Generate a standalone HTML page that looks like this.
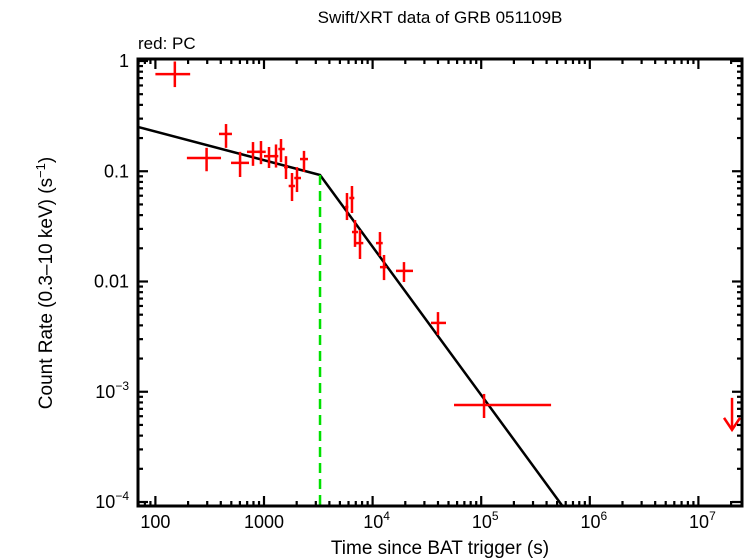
<!DOCTYPE html>
<html><head><meta charset="utf-8"><style>
html,body{margin:0;padding:0;background:#fff;}
svg{display:block;font-family:"Liberation Sans",sans-serif;}
</style></head><body>
<svg id="chart" width="748" height="558" viewBox="0 0 748 558">
<text x="440" y="23" font-size="17" text-anchor="middle">Swift/XRT data of GRB 051109B</text>
<text x="138" y="49" font-size="17">red: PC</text>
<text x="440" y="554" font-size="19" text-anchor="middle">Time since BAT trigger (s)</text>
<text transform="translate(52,283) rotate(-90)" font-size="19" text-anchor="middle">Count Rate (0.3–10 keV) (s<tspan dy="-7" font-size="13">−1</tspan><tspan dy="7">)</tspan></text>
<g id="plot"></g>
</svg>
<script>
const times=[296,447,602,792,938,1112,1290,1434,1594,1811,2013,2335,5808,6457,6887,7655,11690,12740,19450,40000,106200];
const tLo=[195,385,497,697,875,1000,1219,1355,1528,1687,1900,2146,5572,6106,6457,7031,10740,11690,16420,34500,56200];
const tHi=[402,507,728,919,1037,1263,1355,1552,1663,1928,2192,2541,5975,6786,7341,8210,12390,13490,23550,47400,440000];
const rates=[0.132,0.218,0.119,0.150,0.150,0.137,0.137,0.159,0.109,0.0735,0.0868,0.129,0.0474,0.0572,0.0281,0.0223,0.0223,0.0135,0.0125,0.00421,0.000758];
const rLo=[0.100,0.163,0.0887,0.112,0.116,0.107,0.108,0.121,0.085,0.0537,0.0648,0.0985,0.0361,0.0418,0.0206,0.0160,0.0170,0.0103,0.0099,0.00327,0.000578];
const rHi=[0.163,0.268,0.150,0.184,0.188,0.166,0.175,0.196,0.137,0.0964,0.109,0.153,0.0635,0.0735,0.0361,0.0293,0.0281,0.0174,0.0150,0.00528,0.000955];
const firstPoint={t:151,tLo:100,tHi:209,r:0.76,rLo:0.58,rHi:0.99};
const upperLimit={t:2.04e7,r:0.00088};
const breakTime=3280, breakRate=0.0925, alpha1=0.26, alpha2=1.36;
const modelT=[69,3280,560000];
const xTicks=[100,1000,1e4,1e5,1e6,1e7];
const xTickLabels=["100","1000","10|4","10|5","10|6","10|7"];
const yTicks=[1,0.1,0.01,0.001,0.0001];
const yTickLabels=["1","0.1","0.01","10|−3","10|−4"];

const L=138,R=742,T=59,B=506;
const sx=t=>264+108.6*(Math.log10(t)-3);
const sy=v=>61-110.25*Math.log10(v);
const NS="http://www.w3.org/2000/svg";
const g=document.getElementById('plot');
function mk(tag,attrs,parent){const e=document.createElementNS(NS,tag);for(const k in attrs)e.setAttribute(k,attrs[k]);(parent||g).appendChild(e);return e;}

const model=t=>t<breakTime?breakRate*Math.pow(t/breakTime,-alpha1):breakRate*Math.pow(t/breakTime,-alpha2);
const mp=mk('polyline',{points:modelT.map(t=>sx(t)+','+Math.min(sy(model(t)),B)).join(' '),fill:'none',stroke:'#000','stroke-width':2.5});


const bl=mk('line',{x1:sx(breakTime),x2:sx(breakTime),y1:sy(breakRate),y2:B,stroke:'#00e000','stroke-width':2.5,'stroke-dasharray':'10,6'});



function pt(t,lo,hi,r,rl,rh,i){
  const grp=mk('g',{stroke:'#f00','stroke-width':2.5});
  
  
  mk('line',{x1:sx(lo),x2:sx(hi),y1:sy(r),y2:sy(r)},grp);
  mk('line',{x1:sx(t),x2:sx(t),y1:sy(rh),y2:sy(rl)},grp);
}
pt(firstPoint.t,firstPoint.tLo,firstPoint.tHi,firstPoint.r,firstPoint.rLo,firstPoint.rHi,0);
for(let i=0;i<times.length;i++)pt(times[i],tLo[i],tHi[i],rates[i],rLo[i],rHi[i],i+1);
const ul=mk('g',{stroke:'#f00','stroke-width':2.5,fill:'none'});


const ux=sx(upperLimit.t),uy=sy(upperLimit.r);
mk('line',{x1:ux,x2:ux,y1:uy,y2:uy+32},ul);
mk('polyline',{points:`${ux-8},${uy+20} ${ux},${uy+32} ${ux+8},${uy+20}`},ul);

const fr=mk('rect',{x:L,y:T,width:R-L,height:B-T,fill:'none',stroke:'#000','stroke-width':3});


const tk=mk('g',{stroke:'#000','stroke-width':2.2});


for(let d=1;d<=7;d++)for(let m=1;m<10;m++){const t=m*Math.pow(10,d);const x=sx(t);if(x<L||x>R)continue;const len=m===1?10:5;
  mk('line',{x1:x,x2:x,y1:B,y2:B-len},tk);mk('line',{x1:x,x2:x,y1:T,y2:T+len},tk);}
for(let d=-5;d<=0;d++)for(let m=1;m<10;m++){const v=m*Math.pow(10,d);const y=sy(v);if(y<T||y>B)continue;const len=m===1?10:5;
  mk('line',{x1:L,x2:L+len,y1:y,y2:y},tk);mk('line',{x1:R,x2:R-len,y1:y,y2:y},tk);}
function lbl(txt,x,y,anchor,name){
  const e=mk('text',{x:x,y:y,'font-size':18,'text-anchor':anchor,fill:'#000'});
  
  
  const p=txt.split('|');e.appendChild(document.createTextNode(p[0]));
  if(p[1]){const s=document.createElementNS(NS,'tspan');s.setAttribute('dy','-8');s.setAttribute('font-size','12');s.textContent=p[1];e.appendChild(s);}
}
xTicks.forEach((t,i)=>lbl(xTickLabels[i],sx(t)+(xTickLabels[i].includes('|')?4:0),528,'middle','x-tick-label'));
yTicks.forEach((v,i)=>lbl(yTickLabels[i],129,sy(v)+6,'end','y-tick-label'));
</script>
</body></html>
